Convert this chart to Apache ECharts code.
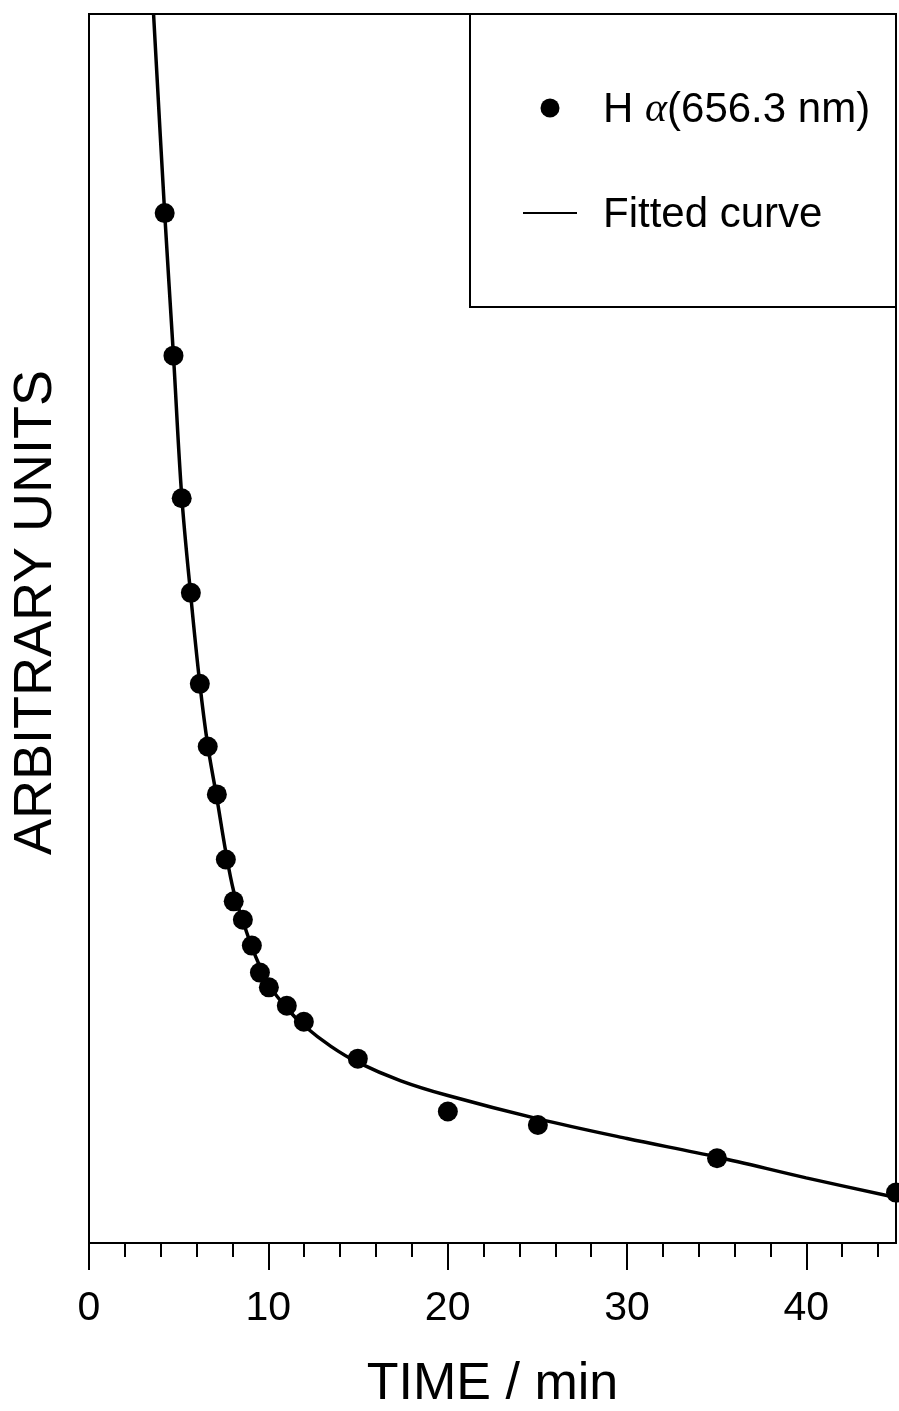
<!DOCTYPE html>
<html><head><meta charset="utf-8">
<script src="https://cdn.jsdelivr.net/npm/echarts@6/dist/echarts.min.js"></script>
<style>html,body{margin:0;padding:0;background:#fff}#c{width:899px;height:1411px}</style>
</head><body><div id="c"></div>
<script>
// Measured data (H alpha emission, arbitrary units vs time in minutes)
const timeMin = [4.22, 4.71, 5.17, 5.68, 6.18, 6.62, 7.13, 7.63, 8.07, 8.58, 9.08, 9.53, 10.03, 11.03, 11.98, 14.99, 20.01, 25.03, 35.02, 45.0];
const intensity = [83.8, 72.2, 60.6, 52.9, 45.5, 40.4, 36.5, 31.2, 27.8, 26.3, 24.2, 22.0, 20.8, 19.3, 18.0, 15.0, 10.7, 9.6, 6.9, 4.1];
// Fitted curve
const fitTime = [3.6, 4.22, 4.71, 5.17, 5.68, 6.18, 6.62, 7.13, 7.63, 8.07, 8.58, 9.08, 9.53, 10.03, 11.03, 11.98, 13.49, 14.99, 17.39, 20.01, 25.04, 30.0, 35.02, 39.99, 45.0];
const fitValue = [100, 83.8, 72.2, 60.8, 52.6, 45.5, 40.5, 36.2, 31.8, 28.6, 26.2, 24.1, 22.5, 21.0, 19.1, 17.7, 16.0, 14.7, 13.2, 12.0, 10.1, 8.5, 7.0, 5.3, 3.7];
const majorTicks = [0, 10, 20, 30, 40];
const minorTicks = [2, 4, 6, 8, 12, 14, 16, 18, 22, 24, 26, 28, 32, 34, 36, 38, 42, 44];
const xTitle = 'TIME / min';
const yTitle = 'ARBITRARY UNITS';
const seriesNames = ['H α(656.3 nm)', 'Fitted curve'];

const FONT = '"Liberation Sans", Arial, Helvetica, sans-serif';
const chart = echarts.init(document.getElementById('c'), null, {renderer: 'canvas'});
chart.setOption({
  animation: false,
  backgroundColor: '#fff',
  grid: {
    left: 89, right: 3, top: 14, bottom: 168,
    show: true, borderColor: '#000', borderWidth: 2,
    containLabel: false, outerBoundsMode: 'none'
  },
  xAxis: [{
    type: 'value', min: 0, max: 45, interval: 10,
    name: xTitle, nameLocation: 'middle', nameGap: 116,
    nameTextStyle: {fontFamily: FONT, fontSize: 52, color: '#000'},
    axisLine: {show: true, lineStyle: {color: '#000', width: 2}},
    axisTick: {show: true, inside: false, length: 27, customValues: majorTicks, lineStyle: {color: '#000', width: 2}},
    axisLabel: {show: true, margin: 45, customValues: majorTicks, fontFamily: FONT, fontSize: 41, color: '#000'},
    splitLine: {show: false}
  }, {
    type: 'value', min: 0, max: 45, position: 'bottom', offset: 0,
    axisLine: {show: false},
    axisTick: {show: true, inside: false, length: 14, customValues: minorTicks, lineStyle: {color: '#000', width: 2}},
    axisLabel: {show: false},
    splitLine: {show: false}
  }],
  yAxis: {
    type: 'value', min: 0, max: 100,
    name: yTitle, nameLocation: 'middle', nameGap: 26, nameRotate: 90,
    nameTextStyle: {fontFamily: FONT, fontSize: 54, color: '#000', padding: [0, 0, 0, 32]},
    axisLine: {show: true, lineStyle: {color: '#000', width: 2}},
    axisTick: {show: false},
    axisLabel: {show: false},
    splitLine: {show: false}
  },
  series: [{
    name: seriesNames[1], type: 'line', xAxisIndex: 0,
    data: fitTime.map((t, i) => [t, fitValue[i]]),
    smooth: 0.35, showSymbol: false, symbol: 'none',
    lineStyle: {color: '#000', width: 3.5, opacity: 1}, clip: true, z: 2
  }, {
    name: seriesNames[0], type: 'scatter', xAxisIndex: 0,
    data: timeMin.map((t, i) => [t, intensity[i]]),
    symbol: 'circle', symbolSize: 20,
    itemStyle: {color: '#000', opacity: 1}, clip: false, z: 3
  }],
  graphic: [
    {type: 'rect', z: 10, shape: {x: 470, y: 14, width: 426, height: 293},
     style: {fill: '#fff', stroke: '#000', lineWidth: 2}},
    {type: 'circle', z: 11, shape: {cx: 550, cy: 108, r: 9.5}, style: {fill: '#000'}},
    {type: 'line', z: 11, shape: {x1: 523, y1: 213, x2: 577, y2: 213}, style: {stroke: '#000', lineWidth: 2}},
    {type: 'text', z: 11, x: 603, y: 110,
     style: {
       text: '{n|H }{a|α}{n|(656.3 nm)}', verticalAlign: 'middle', textAlign: 'left',
       rich: {
         n: {fontFamily: FONT, fontSize: 42, fill: '#000'},
         a: {fontFamily: '"Liberation Serif", "DejaVu Serif", serif', fontStyle: 'italic', fontSize: 42, fill: '#000'}
       }
     }},
    {type: 'text', z: 11, x: 603, y: 215,
     style: {text: seriesNames[1], font: '42px ' + FONT, fill: '#000', verticalAlign: 'middle', textAlign: 'left'}}
  ]
});
</script>
</body></html>
